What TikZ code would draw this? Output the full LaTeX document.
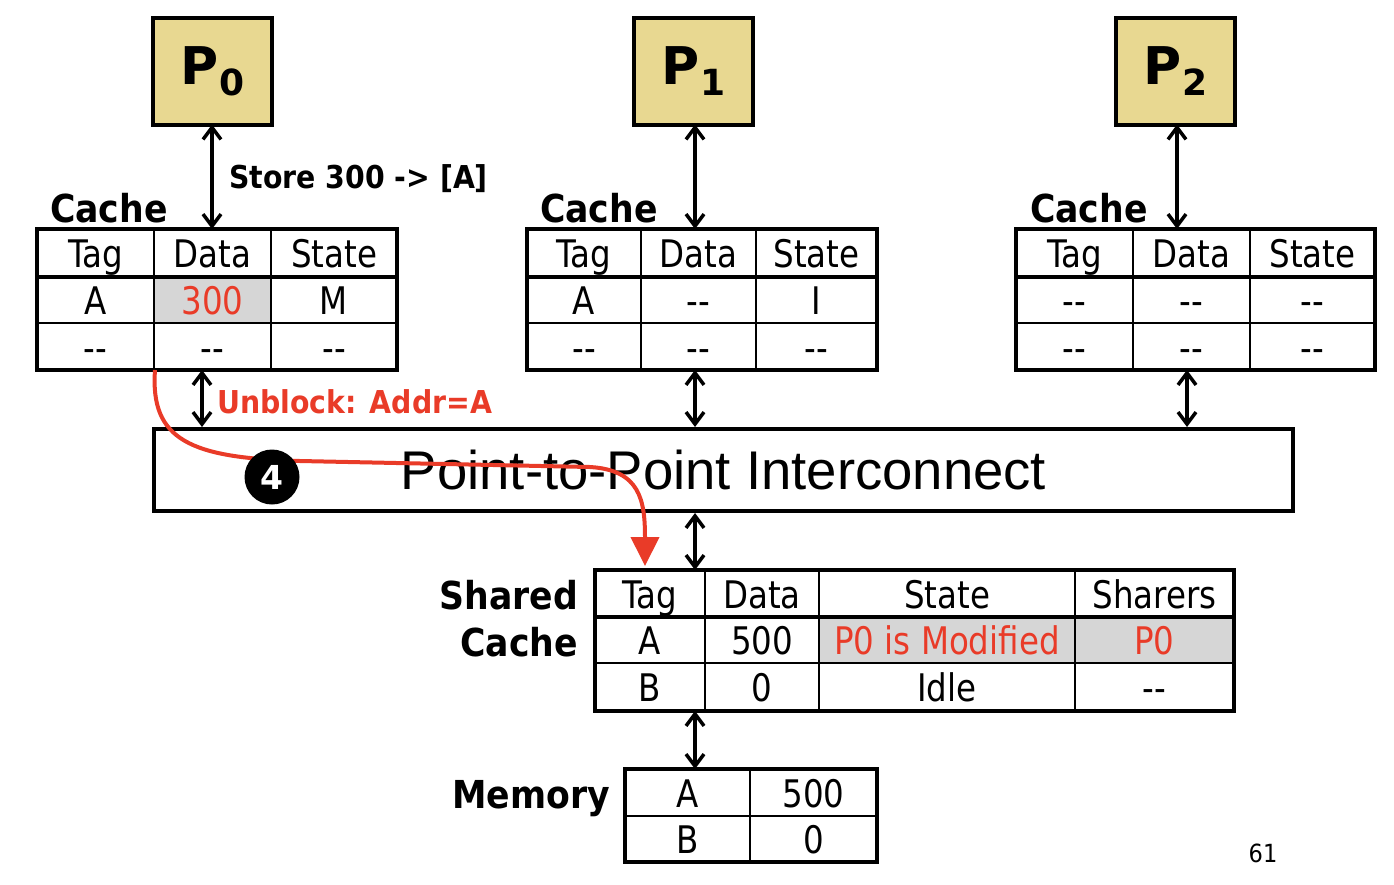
\documentclass[tikz,border=0pt]{standalone}
\usepackage{fontspec}
\setmainfont{DejaVu Sans}
\newfontfamily\tabf{DejaVu Sans Condensed}
\newfontfamily\tabn[FakeStretch=0.95]{DejaVu Sans Condensed}
\newfontfamily\ptpf{Liberation Sans}
\usetikzlibrary{arrows.meta}
\definecolor{procfill}{RGB}{232,216,145}
\definecolor{accent}{RGB}{233,59,40}
\definecolor{cellgray}{RGB}{214,214,214}
\newcommand\dd{-\kern0pt-}
\newcommand\tcell[7][]{\node[cellst,#1,minimum width={(#4-#3)*1pt},minimum height={(#6-#5)*1pt}] (#2) at ({(#3+#4)/2},{(#5+#6)/2}) {#7};}
\tikzset{
  cellst/.style={draw,line width=2pt,inner sep=0pt,outer sep=0pt,text height=36pt,text depth=7pt,
    font=\tabn\fontsize{38}{40}\selectfont},
  hl/.style={fill=cellgray,text=accent},
  border/.style={line width=4pt,line cap=rect},
  proc/.style={draw,line width=4pt,fill=procfill,inner sep=0pt,outer sep=0pt,minimum width=119pt,minimum height=107pt,
    font=\bfseries\fontsize{52}{52}\selectfont},
  link/.style={line width=3.5pt,{Straight Barb[length=12pt,width=18pt]}-{Straight Barb[length=12pt,width=18pt]}},
  lbl/.style={inner sep=0pt,font=\tabf\bfseries\fontsize{38.5}{40}\selectfont},
  msg/.style={inner sep=0pt,font=\tabf\bfseries\fontsize{31.5}{36}\selectfont},
  redline/.style={draw=accent,line width=4pt,-{Triangle[length=29pt,width=28pt]}},
  stepnum/.style={circle,fill=black,inner sep=0pt,minimum size=55pt,text=white,font=\bfseries\fontsize{33}{34}\selectfont},
}
\newcommand\psub[1]{P\raisebox{-11pt}{\fontsize{36}{36}\selectfont #1}}
\begin{document}
\begin{tikzpicture}[x=1pt,y=-1pt]
\useasboundingbox (0,0) rectangle (1394,884);
% processors
\node[proc] (p0) at (212.5,71) {\psub{0}};
\node[proc] (p1) at (693.5,71) {\psub{1}};
\node[proc] (p2) at (1175.5,71) {\psub{2}};
% cache 0
\tcell{c0a1}{37}{154}{229}{277}{Tag}
\tcell{c0a2}{154}{271}{229}{277}{Data}
\tcell{c0a3}{271}{397}{229}{277}{State}
\tcell{c0b1}{37}{154}{277}{323}{A}
\tcell[hl]{c0b2}{154}{271}{277}{323}{300}
\tcell{c0b3}{271}{397}{277}{323}{M}
\tcell{c0c1}{37}{154}{323}{370}{\dd}
\tcell{c0c2}{154}{271}{323}{370}{\dd}
\tcell{c0c3}{271}{397}{323}{370}{\dd}
\draw[border] (c0a1.north west) rectangle (c0c3.south east);
\draw[border] (c0a1.south west) -- (c0a3.south east);
% cache 1
\tcell{c1a1}{527}{641}{229}{277}{Tag}
\tcell{c1a2}{641}{756}{229}{277}{Data}
\tcell{c1a3}{756}{877}{229}{277}{State}
\tcell{c1b1}{527}{641}{277}{323}{A}
\tcell{c1b2}{641}{756}{277}{323}{\dd}
\tcell{c1b3}{756}{877}{277}{323}{I}
\tcell{c1c1}{527}{641}{323}{370}{\dd}
\tcell{c1c2}{641}{756}{323}{370}{\dd}
\tcell{c1c3}{756}{877}{323}{370}{\dd}
\draw[border] (c1a1.north west) rectangle (c1c3.south east);
\draw[border] (c1a1.south west) -- (c1a3.south east);
% cache 2
\tcell{c2a1}{1016}{1133}{229}{277}{Tag}
\tcell{c2a2}{1133}{1250}{229}{277}{Data}
\tcell{c2a3}{1250}{1375}{229}{277}{State}
\tcell{c2b1}{1016}{1133}{277}{323}{\dd}
\tcell{c2b2}{1133}{1250}{277}{323}{\dd}
\tcell{c2b3}{1250}{1375}{277}{323}{\dd}
\tcell{c2c1}{1016}{1133}{323}{370}{\dd}
\tcell{c2c2}{1133}{1250}{323}{370}{\dd}
\tcell{c2c3}{1250}{1375}{323}{370}{\dd}
\draw[border] (c2a1.north west) rectangle (c2c3.south east);
\draw[border] (c2a1.south west) -- (c2a3.south east);
% labels
\node[lbl,anchor=base west] (l0) at (50,222) {Cache};
\node[lbl,anchor=base west] (l1) at (540,222) {Cache};
\node[lbl,anchor=base west] (l2) at (1030,222) {Cache};
\node[msg,anchor=base west] (st) at (229,188) {Store 300 -> [A]};
\node[msg,anchor=base west,text=accent] (ub) at (217,413) {Unblock: Addr=A};
% interconnect
\node[draw,line width=4pt,inner sep=0pt,minimum width=1139pt,minimum height=82pt,
  font=\ptpf\fontsize{54.5}{56}\selectfont] (ic) at (723.5,470) {Point-to-Point Interconnect};
% shared cache
\tcell{sa1}{595}{705}{570}{617}{Tag}
\tcell{sa2}{705}{819}{570}{617}{Data}
\tcell{sa3}{819}{1075}{570}{617}{State}
\tcell{sa4}{1075}{1234}{570}{617}{Sharers}
\tcell{sb1}{595}{705}{617}{663}{A}
\tcell{sb2}{705}{819}{617}{663}{500}
\tcell[hl]{sb3}{819}{1075}{617}{663}{P0 is Modified}
\tcell[hl]{sb4}{1075}{1234}{617}{663}{P0}
\tcell{sc1}{595}{705}{663}{711}{B}
\tcell{sc2}{705}{819}{663}{711}{0}
\tcell{sc3}{819}{1075}{663}{711}{Idle}
\tcell{sc4}{1075}{1234}{663}{711}{\dd}
\draw[border] (sa1.north west) rectangle (sc4.south east);
\draw[border] (sa1.south west) -- (sa4.south east);
\node[lbl,anchor=base east] (ls1) at (578,609) {Shared};
\node[lbl,anchor=base east] (ls2) at (578,656) {Cache};
% memory
\tcell{ma1}{625}{750}{769}{816}{A}
\tcell{ma2}{750}{877}{769}{816}{500}
\tcell{mb1}{625}{750}{816}{862}{B}
\tcell{mb2}{750}{877}{816}{862}{0}
\draw[border] (ma1.north west) rectangle (mb2.south east);
\node[lbl,anchor=base east] (lm) at (610,808) {Memory};
\node[inner sep=0pt,font=\tabf\fontsize{25}{28}\selectfont] (pg) at (1263,853) {61};
% links
\coordinate (a0) at (212,0);
\coordinate (a1) at (695,0);
\coordinate (a2) at (1177,0);
\coordinate (b0) at (202,0);
\coordinate (b1) at (695,0);
\coordinate (b2) at (1187,0);
\draw[link] (p0.south -| a0) -- (c0a1.north -| a0);
\draw[link] (p1.south -| a1) -- (c1a1.north -| a1);
\draw[link] (p2.south -| a2) -- (c2a1.north -| a2);
\draw[link] (c0c1.south -| b0) -- (ic.north -| b0);
\draw[link] (c1c1.south -| b1) -- (ic.north -| b1);
\draw[link] (c2c1.south -| b2) -- (ic.north -| b2);
\draw[link] (ic.south -| b1) -- (sa1.north -| b1);
\draw[link] (sc1.south -| b1) -- (ma1.north -| b1);
% red message path
\coordinate (rs) at (155,370);
\coordinate (re) at (645,566);
\draw[redline] (rs) .. controls (150,440) and (190,458) .. (300,461) -- (590,467) .. controls (640,470) and (645,500) .. (re);
\node[stepnum] (n4) at (272,477) {4};
\end{tikzpicture}
\end{document}
